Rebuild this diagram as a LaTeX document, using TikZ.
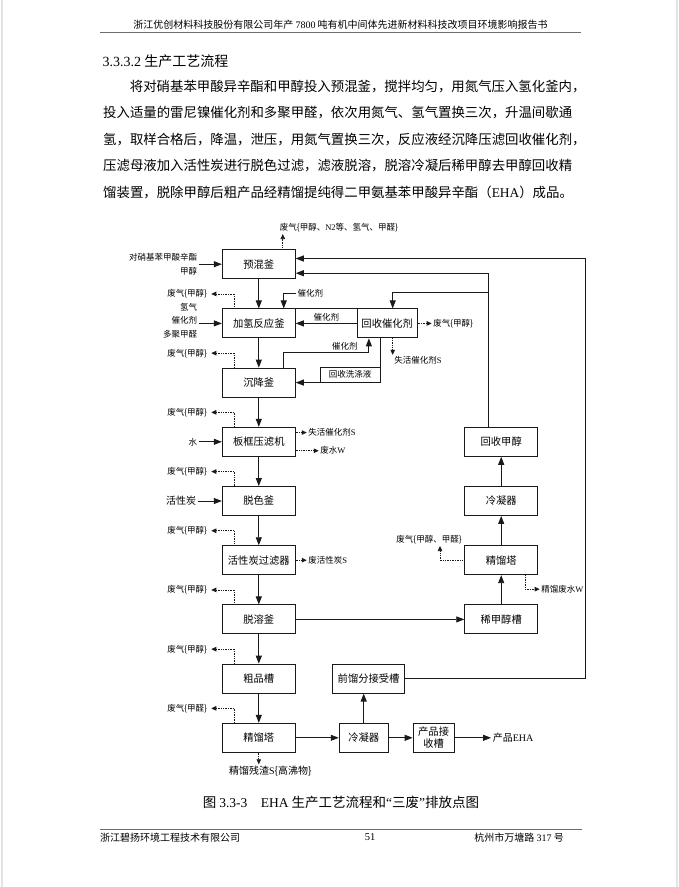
\documentclass[tikz,border=0pt]{standalone}
\usepackage{fontspec}
\setmainfont{Liberation Serif}
\newfontfamily\cjk{Noto Sans CJK SC}
\usetikzlibrary{arrows.meta,positioning}
\XeTeXlinebreaklocale "zh"
\XeTeXlinebreakskip=0pt plus 1pt
\definecolor{pageedge}{HTML}{E4E4E4}
\definecolor{rulegray}{HTML}{6E6E6E}
\definecolor{inkgray}{HTML}{1A1A1A}
\newcommand{\tnr}[1]{{\rmfamily #1}}

\begin{document}
\begin{tikzpicture}[
  x=1pt, y=1pt,
  >={Triangle[length=8pt,width=6pt]},
  unit/.style={rectangle, draw=inkgray, line width=0.9pt, minimum width=73pt, minimum height=29pt, inner sep=2pt, align=center, font=\cjk\fontsize{10.3}{12.5}\selectfont},
  tag/.style={inner sep=1.5pt, font=\cjk\fontsize{8.5}{13.6}\selectfont},
  bigtag/.style={inner sep=1.5pt, font=\cjk\fontsize{10}{12}\selectfont},
  link/.style={line width=0.9pt, draw=inkgray},
  flow/.style={link, ->},
  waste/.style={-{Triangle[length=5pt,width=4.5pt]}, line width=0.7pt, densely dotted, draw=inkgray},
  bodyline/.style={anchor=west, inner sep=0pt, font=\cjk\fontsize{13.4}{16}\selectfont}
]
  \useasboundingbox (0,0) rectangle (678,-887);

  % Page frame, header and text
  \draw[pageedge, line width=2pt] (1.5,0) -- (1.5,-887);
  \draw[pageedge, line width=2pt] (676.5,0) -- (676.5,-887);
  \node[inner sep=0pt, font=\cjk\fontsize{10}{12}\selectfont] (header) at (340.5,-25) {浙江优创材料科技股份有限公司年产 \tnr{7800} 吨有机中间体先进新材料科技改项目环境影响报告书};
  \draw[rulegray, line width=1.5pt] (100,-32.3) -- (581,-32.3);
  \node[anchor=west, inner sep=0pt, font=\cjk\fontsize{14}{16}\selectfont] (section) at (102.5,-61) {\tnr{3.3.3.2} 生产工艺流程};
  \node[bodyline] (line1) at (129.7,-86.5) {将对硝基苯甲酸异辛酯和甲醇投入预混釜，搅拌均匀，用氮气压入氢化釜内，};
  \node[bodyline] (line2) at (103,-113) {\makebox[476pt][s]{投入适量的雷尼镍催化剂和多聚甲醛，依次用氮气、氢气置换三次，升温间歇通}};
  \node[bodyline] (line3) at (103,-139.5) {氢，取样合格后，降温，泄压，用氮气置换三次，反应液经沉降压滤回收催化剂，};
  \node[bodyline] (line4) at (103,-166) {\makebox[476pt][s]{压滤母液加入活性炭进行脱色过滤，滤液脱溶，脱溶冷凝后稀甲醇去甲醇回收精}};
  \node[bodyline] (line5) at (103,-192.5) {馏装置，脱除甲醇后粗产品经精馏提纯得二甲氨基苯甲酸异辛酯（\tnr{EHA}）成品。};

  % Column 1: main line
  \node[unit] (premix) at (258.8,-264.2) {预混釜};
  \node[unit, below=29.3pt of premix] (hydro) {加氢反应釜};
  \node[unit, below=29.3pt of hydro] (settle) {沉降釜};
  \node[unit, below=29.3pt of settle] (press) {板框压滤机};
  \node[unit, below=29.3pt of press] (decolor) {脱色釜};
  \node[unit, below=29.3pt of decolor] (cfilter) {活性炭过滤器};
  \node[unit, below=29.3pt of cfilter] (desolv) {脱溶釜};
  \node[unit, below=29.3pt of desolv] (crude) {粗品槽};
  \node[unit, below=29.3pt of crude] (dist) {精馏塔};

  % Catalyst recovery
  \node[unit, minimum width=60pt, right=61pt of hydro] (rcat) {回收催化剂};
  \coordinate (washcorner) at ([xshift=-6.7pt]rcat.south |- settle.east);
  \node[tag, draw=inkgray, line width=0.9pt, minimum width=60pt, minimum height=15pt, inner sep=0pt, anchor=south east] (wash) at (washcorner) {回收洗涤液};

  % Column 2: methanol recovery
  \node[unit, right=168.5pt of press] (rmeoh) {回收甲醇};
  \node[unit, below=29.3pt of rmeoh] (cond2) {冷凝器};
  \node[unit, below=29.3pt of cond2] (dist2) {精馏塔};
  \node[unit, below=29.3pt of dist2] (dilute) {稀甲醇槽};

  % Bottom row: product
  \node[unit, minimum width=72pt, right=36.4pt of crude] (front) {前馏分接受槽};
  \node[unit, minimum width=49pt, right=43pt of dist] (cond1) {冷凝器};
  \node[unit, minimum width=41pt, right=24pt of cond1] (recv) {产品接\\收槽};
  \node[bigtag, right=36.5pt of recv] (prod) {产品\tnr{EHA}};

  % Feeds
  \node[tag, align=right, left=23pt of premix] (feedA) {对硝基苯甲酸辛酯\\甲醇};
  \node[tag, align=right, left=23pt of hydro, yshift=3pt] (feedB) {氢气\\催化剂\\多聚甲醛};
  \node[tag, left=23pt of press] (water) {水};
  \node[bigtag, left=24pt of decolor] (carbon) {活性炭};
  \node[tag, anchor=west] (catin) at (296,-293.3) {催化剂};

  % Flow arrows
  \draw[flow] (feedA) -- (premix);
  \draw[flow] (feedB.east |- hydro.west) -- (hydro.west);
  \draw[flow] (water) -- (press);
  \draw[flow] (carbon) -- (decolor);
  \draw[flow] (premix) -- (hydro);
  \draw[flow] (hydro) -- (settle);
  \draw[flow] (settle) -- (press);
  \draw[flow] (press) -- (decolor);
  \draw[flow] (decolor) -- (cfilter);
  \draw[flow] (cfilter) -- (desolv);
  \draw[flow] (desolv) -- (crude);
  \draw[flow] (crude) -- (dist);
  \draw[flow] (dist) -- (cond1);
  \draw[flow] (cond1) -- (recv);
  \draw[flow] (recv) -- (prod);
  \draw[flow] (cond1) -- (cond1 |- front.south);
  \draw[flow] (desolv) -- (dilute);
  \draw[flow] (dilute) -- (dist2);
  \draw[flow] (dist2) -- (cond2);
  \draw[flow] (cond2) -- (rmeoh);

  % Catalyst loop
  \draw[flow] (catin.west) -| ([xshift=-12pt]hydro.north east);
  \draw[link] (hydro.north east) -- (rcat.north west);
  \draw[flow] (rcat) -- node[tag, above] (catback) {催化剂} (hydro);
  \draw[flow] ([xshift=-12.6pt]settle.north east) -- ++(0,15.5) -| node[tag, pos=0.36, above] (catup) {催化剂} ([xshift=-18.3pt]rcat.south);
  \draw[flow] ([xshift=-6.7pt]rcat.south) -- (washcorner) -- (settle.east);

  % Recycle lines
  \coordinate (loopR) at (585,-258.5);
  \draw[flow] (front.east) -| (loopR) -- (loopR -| premix.east);
  \coordinate (split) at (488.3,-292.7);
  \draw[flow] (rmeoh.north -| split) |- ([yshift=-9pt]premix.east);
  \draw[flow] (split) -| ([xshift=5.5pt]rcat.north);

  % Emissions
  \node[tag] (wtop) at (339,-228) {废气\{甲醇、\tnr{N2}等、氢气、甲醛\}};
  \draw[waste] ([xshift=24pt]premix.north) -- ([xshift=24pt]premix.north |- wtop.south);
  \foreach \bx/\gs in {hydro/甲醇, settle/甲醇, press/甲醇, decolor/甲醇, cfilter/甲醇, desolv/甲醇, crude/甲醇, dist/甲醛} {
    \node[tag, inner xsep=4pt, anchor=east] (w\bx) at ([xshift=-10.6pt, yshift=14.5pt]\bx.north west) {废气\{\gs\}};
    \draw[waste] ([xshift=12.7pt]\bx.north west) |- (w\bx.east);
  }
  \node[tag, anchor=west] (wcat) at ([xshift=11pt, yshift=-5.7pt]press.north east) {失活催化剂\tnr{S}};
  \draw[waste] (press.east |- wcat.west) -- (wcat.west);
  \node[tag, anchor=west] (wwater) at ([xshift=23pt, yshift=6pt]press.south east) {废水\tnr{W}};
  \draw[waste] (press.east |- wwater.west) -- (wwater.west);
  \node[tag, anchor=west] (wcarbon) at ([xshift=11pt]cfilter.east) {废活性炭\tnr{S}};
  \draw[waste] (cfilter) -- (wcarbon);
  \node[tag, anchor=west] (wrcat) at ([xshift=14pt]rcat.east) {废气\{甲醇\}};
  \draw[waste] (rcat) -- (wrcat);
  \node[tag, anchor=north west] (wspent) at ([xshift=5.5pt, yshift=-16.5pt]rcat.south) {失活催化剂\tnr{S}};
  \draw[waste] ([xshift=5.5pt]rcat.south) -- (wspent.north west);
  \node[tag] (wdist2) at (429,-540) {废气\{甲醇、甲醛\}};
  \draw[waste] (dist2.west) -| ([xshift=11pt]wdist2.south);
  \node[tag, anchor=west] (wdw) at ([xshift=1.5pt, yshift=-14pt]dist2.south east) {精馏废水\tnr{W}};
  \draw[waste] ([xshift=24pt]dist2.south) |- (wdw.west);
  \node[bigtag, anchor=north] (wres) at ([xshift=11.5pt, yshift=-11.5pt]dist.south) {精馏残渣\tnr{S}\{高沸物\}};
  \draw[waste] (dist.south) -- (dist.south |- wres.north);

  % Caption and footer
  \node[inner sep=0pt, font=\cjk\fontsize{13.5}{16}\selectfont] (caption) at (341,-802.7) {图 \tnr{3.3-3}\quad \tnr{EHA} 生产工艺流程和\tnr{“}三废\tnr{”}排放点图};
  \draw[rulegray, line width=1.5pt] (100,-829.3) -- (581.5,-829.3);
  \node[anchor=west, inner sep=0pt, font=\cjk\fontsize{10}{12}\selectfont] (footL) at (100,-837.5) {浙江碧扬环境工程技术有限公司};
  \node[inner sep=0pt, font=\rmfamily\fontsize{10.5}{12}\selectfont] (footC) at (370,-837.5) {51};
  \node[anchor=east, inner sep=0pt, font=\cjk\fontsize{10}{12}\selectfont] (footR) at (564,-837.5) {杭州市万塘路 \tnr{317} 号};
\end{tikzpicture}
\end{document}
